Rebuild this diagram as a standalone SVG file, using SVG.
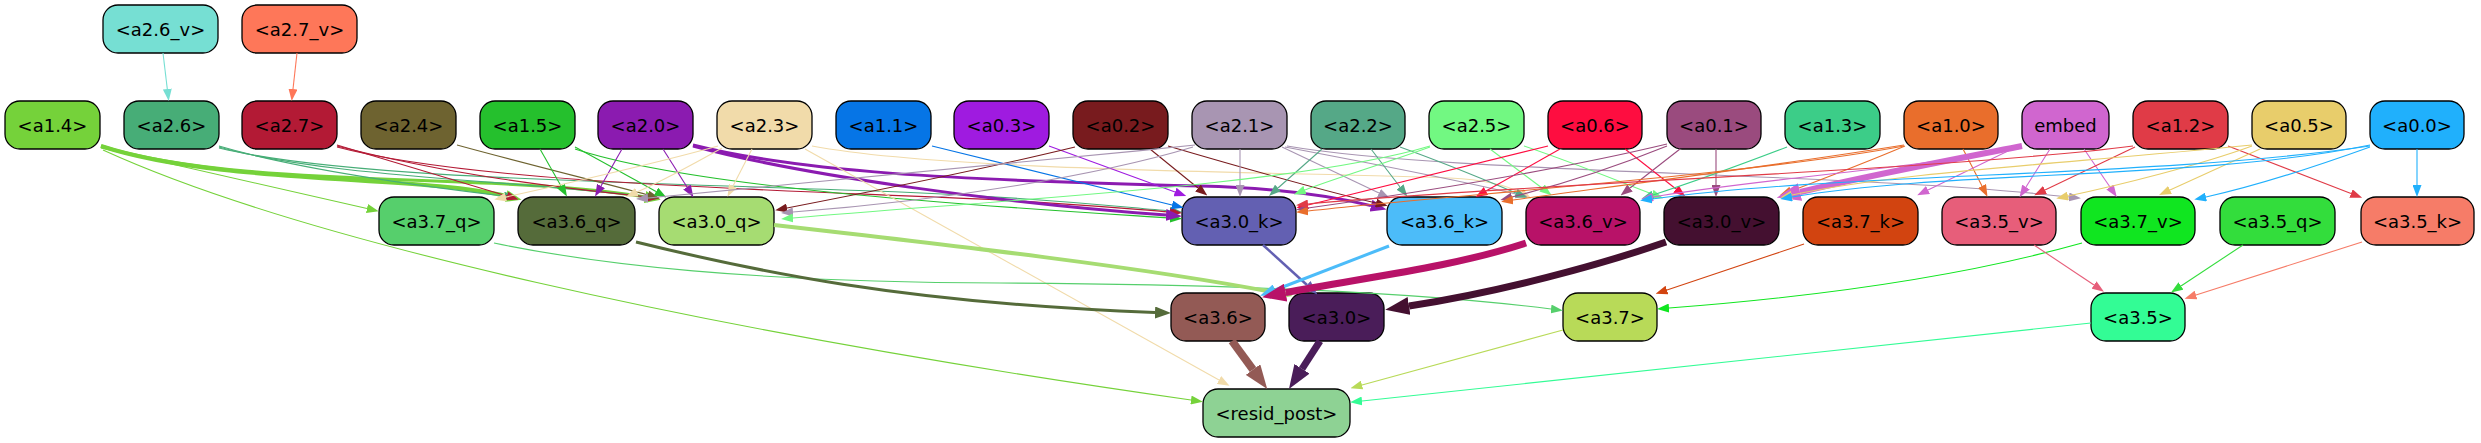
<svg xmlns="http://www.w3.org/2000/svg" width="2481" height="443" viewBox="0 0 2481 443">
<style>
.n rect{stroke:#000;stroke-width:1.3}
.n text{font-family:"DejaVu Sans","Liberation Sans",sans-serif;font-size:18px;text-anchor:middle;fill:#000}
.e path{fill:none}
</style>
<defs>
<marker id="m_a26v" viewBox="0 0 12 9" refX="0" refY="4.5" markerWidth="12" markerHeight="9" markerUnits="userSpaceOnUse" orient="auto"><path d="M0,0L12,4.5L0,9z" fill="#76dfd3"/></marker>
<marker id="m_a27v" viewBox="0 0 12 9" refX="0" refY="4.5" markerWidth="12" markerHeight="9" markerUnits="userSpaceOnUse" orient="auto"><path d="M0,0L12,4.5L0,9z" fill="#fe7759"/></marker>
<marker id="m_a14" viewBox="0 0 12 9" refX="0" refY="4.5" markerWidth="12" markerHeight="9" markerUnits="userSpaceOnUse" orient="auto"><path d="M0,0L12,4.5L0,9z" fill="#75d23a"/></marker>
<marker id="m_a26" viewBox="0 0 12 9" refX="0" refY="4.5" markerWidth="12" markerHeight="9" markerUnits="userSpaceOnUse" orient="auto"><path d="M0,0L12,4.5L0,9z" fill="#47ad77"/></marker>
<marker id="m_a27" viewBox="0 0 12 9" refX="0" refY="4.5" markerWidth="12" markerHeight="9" markerUnits="userSpaceOnUse" orient="auto"><path d="M0,0L12,4.5L0,9z" fill="#b31a35"/></marker>
<marker id="m_a24" viewBox="0 0 12 9" refX="0" refY="4.5" markerWidth="12" markerHeight="9" markerUnits="userSpaceOnUse" orient="auto"><path d="M0,0L12,4.5L0,9z" fill="#6e6330"/></marker>
<marker id="m_a15" viewBox="0 0 12 9" refX="0" refY="4.5" markerWidth="12" markerHeight="9" markerUnits="userSpaceOnUse" orient="auto"><path d="M0,0L12,4.5L0,9z" fill="#25c02d"/></marker>
<marker id="m_a20" viewBox="0 0 12 9" refX="0" refY="4.5" markerWidth="12" markerHeight="9" markerUnits="userSpaceOnUse" orient="auto"><path d="M0,0L12,4.5L0,9z" fill="#8b1bb0"/></marker>
<marker id="m_a23" viewBox="0 0 12 9" refX="0" refY="4.5" markerWidth="12" markerHeight="9" markerUnits="userSpaceOnUse" orient="auto"><path d="M0,0L12,4.5L0,9z" fill="#f1dbaa"/></marker>
<marker id="m_a11" viewBox="0 0 12 9" refX="0" refY="4.5" markerWidth="12" markerHeight="9" markerUnits="userSpaceOnUse" orient="auto"><path d="M0,0L12,4.5L0,9z" fill="#0675e6"/></marker>
<marker id="m_a03" viewBox="0 0 12 9" refX="0" refY="4.5" markerWidth="12" markerHeight="9" markerUnits="userSpaceOnUse" orient="auto"><path d="M0,0L12,4.5L0,9z" fill="#9f1be0"/></marker>
<marker id="m_a02" viewBox="0 0 12 9" refX="0" refY="4.5" markerWidth="12" markerHeight="9" markerUnits="userSpaceOnUse" orient="auto"><path d="M0,0L12,4.5L0,9z" fill="#781b1e"/></marker>
<marker id="m_a21" viewBox="0 0 12 9" refX="0" refY="4.5" markerWidth="12" markerHeight="9" markerUnits="userSpaceOnUse" orient="auto"><path d="M0,0L12,4.5L0,9z" fill="#a895b2"/></marker>
<marker id="m_a22" viewBox="0 0 12 9" refX="0" refY="4.5" markerWidth="12" markerHeight="9" markerUnits="userSpaceOnUse" orient="auto"><path d="M0,0L12,4.5L0,9z" fill="#55a887"/></marker>
<marker id="m_a25" viewBox="0 0 12 9" refX="0" refY="4.5" markerWidth="12" markerHeight="9" markerUnits="userSpaceOnUse" orient="auto"><path d="M0,0L12,4.5L0,9z" fill="#72f882"/></marker>
<marker id="m_a06" viewBox="0 0 12 9" refX="0" refY="4.5" markerWidth="12" markerHeight="9" markerUnits="userSpaceOnUse" orient="auto"><path d="M0,0L12,4.5L0,9z" fill="#fe0d40"/></marker>
<marker id="m_a01" viewBox="0 0 12 9" refX="0" refY="4.5" markerWidth="12" markerHeight="9" markerUnits="userSpaceOnUse" orient="auto"><path d="M0,0L12,4.5L0,9z" fill="#9a4b7e"/></marker>
<marker id="m_a13" viewBox="0 0 12 9" refX="0" refY="4.5" markerWidth="12" markerHeight="9" markerUnits="userSpaceOnUse" orient="auto"><path d="M0,0L12,4.5L0,9z" fill="#3ccd88"/></marker>
<marker id="m_a10" viewBox="0 0 12 9" refX="0" refY="4.5" markerWidth="12" markerHeight="9" markerUnits="userSpaceOnUse" orient="auto"><path d="M0,0L12,4.5L0,9z" fill="#e96e2c"/></marker>
<marker id="m_emb" viewBox="0 0 12 9" refX="0" refY="4.5" markerWidth="12" markerHeight="9" markerUnits="userSpaceOnUse" orient="auto"><path d="M0,0L12,4.5L0,9z" fill="#d066cf"/></marker>
<marker id="m_a12" viewBox="0 0 12 9" refX="0" refY="4.5" markerWidth="12" markerHeight="9" markerUnits="userSpaceOnUse" orient="auto"><path d="M0,0L12,4.5L0,9z" fill="#e03b47"/></marker>
<marker id="m_a05" viewBox="0 0 12 9" refX="0" refY="4.5" markerWidth="12" markerHeight="9" markerUnits="userSpaceOnUse" orient="auto"><path d="M0,0L12,4.5L0,9z" fill="#e8cd6b"/></marker>
<marker id="m_a00" viewBox="0 0 12 9" refX="0" refY="4.5" markerWidth="12" markerHeight="9" markerUnits="userSpaceOnUse" orient="auto"><path d="M0,0L12,4.5L0,9z" fill="#20b0fc"/></marker>
<marker id="m_q37" viewBox="0 0 12 9" refX="0" refY="4.5" markerWidth="12" markerHeight="9" markerUnits="userSpaceOnUse" orient="auto"><path d="M0,0L12,4.5L0,9z" fill="#56cf6c"/></marker>
<marker id="m_k37" viewBox="0 0 12 9" refX="0" refY="4.5" markerWidth="12" markerHeight="9" markerUnits="userSpaceOnUse" orient="auto"><path d="M0,0L12,4.5L0,9z" fill="#d24410"/></marker>
<marker id="m_v37" viewBox="0 0 12 9" refX="0" refY="4.5" markerWidth="12" markerHeight="9" markerUnits="userSpaceOnUse" orient="auto"><path d="M0,0L12,4.5L0,9z" fill="#10e620"/></marker>
<marker id="m_v35" viewBox="0 0 12 9" refX="0" refY="4.5" markerWidth="12" markerHeight="9" markerUnits="userSpaceOnUse" orient="auto"><path d="M0,0L12,4.5L0,9z" fill="#e75e7a"/></marker>
<marker id="m_q35" viewBox="0 0 12 9" refX="0" refY="4.5" markerWidth="12" markerHeight="9" markerUnits="userSpaceOnUse" orient="auto"><path d="M0,0L12,4.5L0,9z" fill="#33dd3c"/></marker>
<marker id="m_k35" viewBox="0 0 12 9" refX="0" refY="4.5" markerWidth="12" markerHeight="9" markerUnits="userSpaceOnUse" orient="auto"><path d="M0,0L12,4.5L0,9z" fill="#f67c68"/></marker>
<marker id="m_n37" viewBox="0 0 12 9" refX="0" refY="4.5" markerWidth="12" markerHeight="9" markerUnits="userSpaceOnUse" orient="auto"><path d="M0,0L12,4.5L0,9z" fill="#b8da58"/></marker>
<marker id="m_n35" viewBox="0 0 12 9" refX="0" refY="4.5" markerWidth="12" markerHeight="9" markerUnits="userSpaceOnUse" orient="auto"><path d="M0,0L12,4.5L0,9z" fill="#33fc95"/></marker>
<marker id="m_k30" viewBox="0 0 12 9" refX="0" refY="4.5" markerWidth="14" markerHeight="11" markerUnits="userSpaceOnUse" orient="auto"><path d="M0,0L12,4.5L0,9z" fill="#6360b2"/></marker>
<marker id="M_a14" viewBox="0 0 16 12" refX="0" refY="6" markerWidth="16" markerHeight="12" markerUnits="userSpaceOnUse" orient="auto"><path d="M0,0L16,6L0,12z" fill="#75d23a"/></marker>
<marker id="M_a20" viewBox="0 0 16 12" refX="0" refY="6" markerWidth="16" markerHeight="12" markerUnits="userSpaceOnUse" orient="auto"><path d="M0,0L16,6L0,12z" fill="#8b1bb0"/></marker>
<marker id="M_q36" viewBox="0 0 16 12" refX="0" refY="6" markerWidth="16" markerHeight="12" markerUnits="userSpaceOnUse" orient="auto"><path d="M0,0L16,6L0,12z" fill="#556b3a"/></marker>
<marker id="M_q30" viewBox="0 0 16 12" refX="0" refY="6" markerWidth="16" markerHeight="12" markerUnits="userSpaceOnUse" orient="auto"><path d="M0,0L16,6L0,12z" fill="#a6dc72"/></marker>
<marker id="M_k36" viewBox="0 0 16 12" refX="0" refY="6" markerWidth="16" markerHeight="12" markerUnits="userSpaceOnUse" orient="auto"><path d="M0,0L16,6L0,12z" fill="#4cbcf9"/></marker>
<marker id="B_emb" viewBox="0 0 24 18" refX="0" refY="9" markerWidth="24" markerHeight="18" markerUnits="userSpaceOnUse" orient="auto"><path d="M0,0L24,9L0,18z" fill="#d066cf"/></marker>
<marker id="B_v36" viewBox="0 0 24 18" refX="0" refY="9" markerWidth="24" markerHeight="18" markerUnits="userSpaceOnUse" orient="auto"><path d="M0,0L24,9L0,18z" fill="#b81268"/></marker>
<marker id="B_v30" viewBox="0 0 24 18" refX="0" refY="9" markerWidth="24" markerHeight="18" markerUnits="userSpaceOnUse" orient="auto"><path d="M0,0L24,9L0,18z" fill="#441030"/></marker>
<marker id="B_n36" viewBox="0 0 24 18" refX="0" refY="9" markerWidth="24" markerHeight="18" markerUnits="userSpaceOnUse" orient="auto"><path d="M0,0L24,9L0,18z" fill="#935a55"/></marker>
<marker id="B_n30" viewBox="0 0 24 18" refX="0" refY="9" markerWidth="24" markerHeight="18" markerUnits="userSpaceOnUse" orient="auto"><path d="M0,0L24,9L0,18z" fill="#4a1d59"/></marker>
</defs>
<rect width="2481" height="443" fill="#fff"/>
<g id="nodes" class="n">
<g id="a2_6_v"><rect x="103" y="5" width="115" height="48" rx="15" fill="#76dfd3"/><text x="160.5" y="35.5">&lt;a2.6_v&gt;</text></g>
<g id="a2_7_v"><rect x="242" y="5" width="115" height="48" rx="15" fill="#fe7759"/><text x="299.5" y="35.5">&lt;a2.7_v&gt;</text></g>
<g id="a1_4"><rect x="5" y="101" width="95" height="48" rx="15" fill="#75d23a"/><text x="52.5" y="131.5">&lt;a1.4&gt;</text></g>
<g id="a2_6"><rect x="124" y="101" width="95" height="48" rx="15" fill="#47ad77"/><text x="171.5" y="131.5">&lt;a2.6&gt;</text></g>
<g id="a2_7"><rect x="242" y="101" width="95" height="48" rx="15" fill="#b31a35"/><text x="289.5" y="131.5">&lt;a2.7&gt;</text></g>
<g id="a2_4"><rect x="361" y="101" width="95" height="48" rx="15" fill="#6e6330"/><text x="408.5" y="131.5">&lt;a2.4&gt;</text></g>
<g id="a1_5"><rect x="480" y="101" width="95" height="48" rx="15" fill="#25c02d"/><text x="527.5" y="131.5">&lt;a1.5&gt;</text></g>
<g id="a2_0"><rect x="598" y="101" width="95" height="48" rx="15" fill="#8b1bb0"/><text x="645.5" y="131.5">&lt;a2.0&gt;</text></g>
<g id="a2_3"><rect x="717" y="101" width="95" height="48" rx="15" fill="#f1dbaa"/><text x="764.5" y="131.5">&lt;a2.3&gt;</text></g>
<g id="a1_1"><rect x="836" y="101" width="95" height="48" rx="15" fill="#0675e6"/><text x="883.5" y="131.5">&lt;a1.1&gt;</text></g>
<g id="a0_3"><rect x="954" y="101" width="95" height="48" rx="15" fill="#9f1be0"/><text x="1001.5" y="131.5">&lt;a0.3&gt;</text></g>
<g id="a0_2"><rect x="1073" y="101" width="95" height="48" rx="15" fill="#781b1e"/><text x="1120.5" y="131.5">&lt;a0.2&gt;</text></g>
<g id="a2_1"><rect x="1192" y="101" width="95" height="48" rx="15" fill="#a895b2"/><text x="1239.5" y="131.5">&lt;a2.1&gt;</text></g>
<g id="a2_2"><rect x="1311" y="101" width="94" height="48" rx="15" fill="#55a887"/><text x="1358" y="131.5">&lt;a2.2&gt;</text></g>
<g id="a2_5"><rect x="1429" y="101" width="95" height="48" rx="15" fill="#72f882"/><text x="1476.5" y="131.5">&lt;a2.5&gt;</text></g>
<g id="a0_6"><rect x="1548" y="101" width="94" height="48" rx="15" fill="#fe0d40"/><text x="1595" y="131.5">&lt;a0.6&gt;</text></g>
<g id="a0_1"><rect x="1667" y="101" width="94" height="48" rx="15" fill="#9a4b7e"/><text x="1714" y="131.5">&lt;a0.1&gt;</text></g>
<g id="a1_3"><rect x="1785" y="101" width="95" height="48" rx="15" fill="#3ccd88"/><text x="1832.5" y="131.5">&lt;a1.3&gt;</text></g>
<g id="a1_0"><rect x="1904" y="101" width="94" height="48" rx="15" fill="#e96e2c"/><text x="1951" y="131.5">&lt;a1.0&gt;</text></g>
<g id="embed"><rect x="2022" y="101" width="87" height="48" rx="15" fill="#d066cf"/><text x="2065.5" y="131.5">embed</text></g>
<g id="a1_2"><rect x="2133" y="101" width="95" height="48" rx="15" fill="#e03b47"/><text x="2180.5" y="131.5">&lt;a1.2&gt;</text></g>
<g id="a0_5"><rect x="2252" y="101" width="94" height="48" rx="15" fill="#e8cd6b"/><text x="2299" y="131.5">&lt;a0.5&gt;</text></g>
<g id="a0_0"><rect x="2370" y="101" width="94" height="48" rx="15" fill="#20b0fc"/><text x="2417" y="131.5">&lt;a0.0&gt;</text></g>
<g id="a3_7_q"><rect x="379" y="197" width="115" height="48" rx="15" fill="#56cf6c"/><text x="436.5" y="227.5">&lt;a3.7_q&gt;</text></g>
<g id="a3_6_q"><rect x="518" y="197" width="117" height="48" rx="15" fill="#556b3a"/><text x="576.5" y="227.5">&lt;a3.6_q&gt;</text></g>
<g id="a3_0_q"><rect x="659" y="197" width="115" height="48" rx="15" fill="#a6dc72"/><text x="716.5" y="227.5">&lt;a3.0_q&gt;</text></g>
<g id="a3_0_k"><rect x="1182" y="197" width="114" height="48" rx="15" fill="#6360b2"/><text x="1239" y="227.5">&lt;a3.0_k&gt;</text></g>
<g id="a3_6_k"><rect x="1387" y="197" width="115" height="48" rx="15" fill="#4cbcf9"/><text x="1444.5" y="227.5">&lt;a3.6_k&gt;</text></g>
<g id="a3_6_v"><rect x="1526" y="197" width="114" height="48" rx="15" fill="#b81268"/><text x="1583" y="227.5">&lt;a3.6_v&gt;</text></g>
<g id="a3_0_v"><rect x="1664" y="197" width="115" height="48" rx="15" fill="#441030"/><text x="1721.5" y="227.5">&lt;a3.0_v&gt;</text></g>
<g id="a3_7_k"><rect x="1803" y="197" width="115" height="48" rx="15" fill="#d24410"/><text x="1860.5" y="227.5">&lt;a3.7_k&gt;</text></g>
<g id="a3_5_v"><rect x="1942" y="197" width="114" height="48" rx="15" fill="#e75e7a"/><text x="1999" y="227.5">&lt;a3.5_v&gt;</text></g>
<g id="a3_7_v"><rect x="2081" y="197" width="114" height="48" rx="15" fill="#10e620"/><text x="2138" y="227.5">&lt;a3.7_v&gt;</text></g>
<g id="a3_5_q"><rect x="2220" y="197" width="115" height="48" rx="15" fill="#33dd3c"/><text x="2277.5" y="227.5">&lt;a3.5_q&gt;</text></g>
<g id="a3_5_k"><rect x="2361" y="197" width="113" height="48" rx="15" fill="#f67c68"/><text x="2417.5" y="227.5">&lt;a3.5_k&gt;</text></g>
<g id="a3_6"><rect x="1171" y="293" width="94" height="48" rx="15" fill="#935a55"/><text x="1218" y="323.5">&lt;a3.6&gt;</text></g>
<g id="a3_0"><rect x="1289" y="293" width="95" height="48" rx="15" fill="#4a1d59"/><text x="1336.5" y="323.5">&lt;a3.0&gt;</text></g>
<g id="a3_7"><rect x="1563" y="293" width="94" height="48" rx="15" fill="#b8da58"/><text x="1610" y="323.5">&lt;a3.7&gt;</text></g>
<g id="a3_5"><rect x="2091" y="293" width="94" height="48" rx="15" fill="#33fc95"/><text x="2138" y="323.5">&lt;a3.5&gt;</text></g>
<g id="resid_post"><rect x="1203" y="389" width="147" height="48" rx="15" fill="#8ed294"/><text x="1276.5" y="419.5">&lt;resid_post&gt;</text></g>
</g>
<g id="connectors" class="e" stroke-width="1.1">
<path d="M163,53 L167.3,89" stroke="#76dfd3" marker-end="url(#m_a26v)"/>
<path d="M297,53 L293,89" stroke="#fe7759" marker-end="url(#m_a27v)"/>
<path d="M101,148 C200,170 300,193 367,208.5" stroke="#75d23a" marker-end="url(#m_a14)"/>
<path d="M101,146 C220,185 420,175 506,196" stroke="#75d23a" stroke-width="4" marker-end="url(#M_a14)"/>
<path d="M101,146 C240,190 500,172 645,197" stroke="#75d23a" stroke-width="3" marker-end="url(#M_a14)"/>
<path d="M103,150 C300,240 700,330 1191,400" stroke="#75d23a" marker-end="url(#m_a14)"/>
<path d="M219,146 C300,170 420,186 504,196" stroke="#47ad77" marker-end="url(#m_a26)"/>
<path d="M219,147 C330,178 520,180 647,197" stroke="#47ad77" marker-end="url(#m_a26)"/>
<path d="M219,148 C350,180 650,182 900,192 C1050,198 1120,207 1170,211" stroke="#47ad77" marker-end="url(#m_a26)"/>
<path d="M337,145 L507,196" stroke="#b31a35" marker-end="url(#m_a27)"/>
<path d="M337,146 C450,175 560,188 648,197" stroke="#b31a35" marker-end="url(#m_a27)"/>
<path d="M337,147 C480,185 800,190 1000,200 C1080,204 1130,209 1170,212" stroke="#b31a35" marker-end="url(#m_a27)"/>
<path d="M457,145 C530,165 600,182 648,195" stroke="#6e6330" marker-end="url(#m_a24)"/>
<path d="M540,149 L561,186" stroke="#25c02d" marker-end="url(#m_a15)"/>
<path d="M575,147 C605,163 635,180 656,191.6" stroke="#25c02d" marker-end="url(#m_a15)"/>
<path d="M575,149 C700,190 1000,207 1170,218" stroke="#25c02d" marker-end="url(#m_a15)"/>
<path d="M622,149 L601,186" stroke="#8b1bb0" marker-end="url(#m_a20)"/>
<path d="M663,149 L687,187" stroke="#8b1bb0" marker-end="url(#m_a20)"/>
<path d="M693,146 C800,175 1000,203 1166,215" stroke="#8b1bb0" stroke-width="3" marker-end="url(#M_a20)"/>
<path d="M693,145 C800,172 950,180 1200,186 C1290,188 1340,198 1371,205.6" stroke="#8b1bb0" stroke-width="3" marker-end="url(#M_a20)"/>
<path d="M718,146 C650,165 560,185 506,197" stroke="#f1dbaa" marker-end="url(#m_a23)"/>
<path d="M722,148 C690,166 660,182 637,192" stroke="#f1dbaa" marker-end="url(#m_a23)"/>
<path d="M752,149 L733,186" stroke="#f1dbaa" marker-end="url(#m_a23)"/>
<path d="M805,149 L1219,380" stroke="#f1dbaa" marker-end="url(#m_a23)"/>
<path d="M812,146 C950,172 1300,172 1450,178 C1490,180 1510,187 1521,193" stroke="#f1dbaa" marker-end="url(#m_a23)"/>
<path d="M932,146 L1172,205" stroke="#0675e6" marker-end="url(#m_a11)"/>
<path d="M1049,146 L1175,192" stroke="#9f1be0" marker-end="url(#m_a03)"/>
<path d="M1075,147 C980,170 880,190 787,208" stroke="#781b1e" marker-end="url(#m_a02)"/>
<path d="M1150,149 L1198,188" stroke="#781b1e" marker-end="url(#m_a02)"/>
<path d="M1168,146 C1250,170 1320,190 1376,203" stroke="#781b1e" marker-end="url(#m_a02)"/>
<path d="M1240,149 L1240,185" stroke="#a895b2" marker-end="url(#m_a21)"/>
<path d="M1193,147 C1100,175 950,200 793,212" stroke="#a895b2" marker-end="url(#m_a21)"/>
<path d="M1195,145 C1000,165 800,185 648,198" stroke="#a895b2" marker-end="url(#m_a21)"/>
<path d="M1282,147 L1379,193" stroke="#a895b2" marker-end="url(#m_a21)"/>
<path d="M1285,147 C1380,165 1470,183 1516,194" stroke="#a895b2" marker-end="url(#m_a21)"/>
<path d="M1287,146 C1450,174 1850,172 2069,197" stroke="#a895b2" marker-end="url(#m_a21)"/>
<path d="M1322,149 L1278,188" stroke="#55a887" marker-end="url(#m_a22)"/>
<path d="M1371,149 L1400,187" stroke="#55a887" marker-end="url(#m_a22)"/>
<path d="M1400,147 C1450,165 1490,182 1516,193" stroke="#55a887" marker-end="url(#m_a22)"/>
<path d="M1430,147 C1380,165 1330,180 1305,190" stroke="#72f882" marker-end="url(#m_a25)"/>
<path d="M1430,146 C1300,185 1000,200 793,218" stroke="#72f882" marker-end="url(#m_a25)"/>
<path d="M1490,149 L1542,188" stroke="#72f882" marker-end="url(#m_a25)"/>
<path d="M1524,146 C1580,165 1620,182 1652,194" stroke="#72f882" marker-end="url(#m_a25)"/>
<path d="M1548,146 L1308,205" stroke="#fe0d40" marker-end="url(#m_a06)"/>
<path d="M1560,149 L1486,191" stroke="#fe0d40" marker-end="url(#m_a06)"/>
<path d="M1625,149 L1676,189" stroke="#fe0d40" marker-end="url(#m_a06)"/>
<path d="M1716,149 L1716,185" stroke="#9a4b7e" marker-end="url(#m_a01)"/>
<path d="M1680,149 L1630,188" stroke="#9a4b7e" marker-end="url(#m_a01)"/>
<path d="M1667,146 C1620,165 1560,185 1512,197" stroke="#9a4b7e" marker-end="url(#m_a01)"/>
<path d="M1667,144 C1550,172 1400,195 1308,208" stroke="#9a4b7e" marker-end="url(#m_a01)"/>
<path d="M1787,147 C1740,165 1690,183 1653,195" stroke="#3ccd88" marker-end="url(#m_a13)"/>
<path d="M1963,149 L1982,186" stroke="#e96e2c" marker-end="url(#m_a10)"/>
<path d="M1905,146 C1860,165 1820,180 1791,191" stroke="#e96e2c" marker-end="url(#m_a10)"/>
<path d="M1904,145 C1760,168 1600,188 1513,200" stroke="#e96e2c" marker-end="url(#m_a10)"/>
<path d="M1904,146 C1750,175 1450,195 1308,211" stroke="#e96e2c" marker-end="url(#m_a10)"/>
<path d="M2010,150 L1928,190" stroke="#d066cf" marker-end="url(#m_emb)"/>
<path d="M2050,149 L2026,187" stroke="#d066cf" marker-end="url(#m_emb)"/>
<path d="M2084,149 L2110,187" stroke="#d066cf" marker-end="url(#m_emb)"/>
<path d="M2022,146 C1950,160 1870,175 1800,192" stroke="#d066cf" stroke-width="6" marker-end="url(#B_emb)"/>
<path d="M2022,148 C1900,170 1750,180 1653,197" stroke="#d066cf" marker-end="url(#m_emb)"/>
<path d="M2135,147 L2045,190" stroke="#e03b47" marker-end="url(#m_a12)"/>
<path d="M2228,146 L2351,193.5" stroke="#e03b47" marker-end="url(#m_a12)"/>
<path d="M2133,146 C1950,170 1500,185 1308,204" stroke="#e03b47" marker-end="url(#m_a12)"/>
<path d="M2260,149 L2170,190" stroke="#e8cd6b" marker-end="url(#m_a05)"/>
<path d="M2252,146 C2200,165 2120,185 2068,196" stroke="#e8cd6b" marker-end="url(#m_a05)"/>
<path d="M2252,145 C2050,165 1900,172 1792,195" stroke="#e8cd6b" marker-end="url(#m_a05)"/>
<path d="M2417,149 L2417,185" stroke="#20b0fc" marker-end="url(#m_a00)"/>
<path d="M2370,147 C2320,165 2260,185 2206,197" stroke="#20b0fc" marker-end="url(#m_a00)"/>
<path d="M2370,145 C2200,180 1950,170 1792,197" stroke="#20b0fc" marker-end="url(#m_a00)"/>
<path d="M2370,146 C2150,178 1850,172 1652,199" stroke="#20b0fc" marker-end="url(#m_a00)"/>
<path d="M494,243 C600,265 750,282 1000,283 C1200,284 1400,290 1551,309" stroke="#56cf6c" marker-end="url(#m_q37)"/>
<path d="M636,242 C750,270 900,303 1155,312.5" stroke="#556b3a" stroke-width="3" marker-end="url(#M_q36)"/>
<path d="M774,225 C950,245 1150,268 1277,293" stroke="#a6dc72" stroke-width="4" marker-end="url(#M_q30)"/>
<path d="M1263,245 L1307,285" stroke="#6360b2" stroke-width="2.5" marker-end="url(#m_k30)"/>
<path d="M1389,246 L1275,290" stroke="#4cbcf9" stroke-width="3" marker-end="url(#M_k36)"/>
<path d="M1526,243 C1450,268 1360,278 1285.6,292.6" stroke="#b81268" stroke-width="7" marker-end="url(#B_v36)"/>
<path d="M1666,242 C1600,265 1500,292 1409,306" stroke="#441030" stroke-width="7" marker-end="url(#B_v30)"/>
<path d="M1804,244 L1667,290" stroke="#d24410" marker-end="url(#m_k37)"/>
<path d="M2082,243 C1950,280 1800,298 1669,308" stroke="#10e620" marker-end="url(#m_v37)"/>
<path d="M2034,245 L2094,285" stroke="#e75e7a" marker-end="url(#m_v35)"/>
<path d="M2243,245 L2181,286" stroke="#33dd3c" marker-end="url(#m_q35)"/>
<path d="M2362,242 L2196,295" stroke="#f67c68" marker-end="url(#m_k35)"/>
<path d="M1232,341 L1253,369.6" stroke="#935a55" stroke-width="8" marker-end="url(#B_n36)"/>
<path d="M1320,341 L1302,368.8" stroke="#4a1d59" stroke-width="7" marker-end="url(#B_n30)"/>
<path d="M1563,330 L1362,385" stroke="#b8da58" marker-end="url(#m_n37)"/>
<path d="M2091,323 L1362,401" stroke="#33fc95" marker-end="url(#m_n35)"/>
</g>
</svg>
